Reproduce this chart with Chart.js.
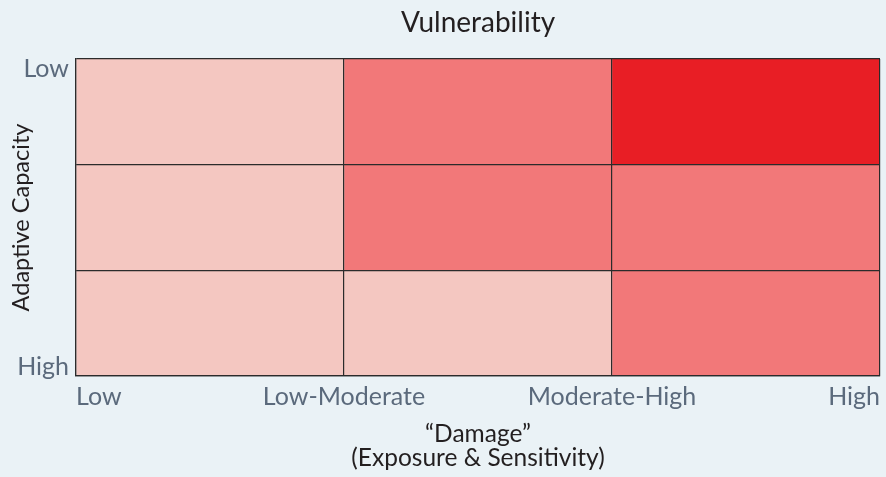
<!DOCTYPE html>
<html>
<head>
<meta charset="utf-8">
<script src="https://cdn.jsdelivr.net/npm/chart.js@4/dist/chart.umd.min.js"></script>
<style>
  body { margin: 0; background: #eaf2f6; }
  #wrap { width: 886px; height: 477px; }
</style>
</head>
<body>
<div id="wrap"><canvas id="myChart"></canvas></div>
<script>
// Damage categories along the x axis (tick labels at the cell edges)
var damageLabels = ['Low', 'Low-Moderate', 'Moderate-High', 'High'];
// Adaptive capacity rows, top to bottom
var capacityRows = ['Low', 'Moderate', 'High'];
var capacityTop = 'Low';
var capacityBottom = 'High';
// Vulnerability level of each cell, one array per damage column, rows top to bottom
var colLow = [1, 1, 1];
var colModerate = [2, 2, 1];
var colHigh = [3, 2, 2];
var levelColors = { 1: '#f4c7c1', 2: '#f27879', 3: '#e81e25' };

var fontFamily = 'Lato, "Open Sans", sans-serif';
var tickColor = '#5b6a7c';
var titleColor = '#231f20';
var lineColor = '#2b2b2b';

function makeDataset(values, col) {
    return {
        data: values.map(v => [col, col + 1]),
        backgroundColor: values.map(v => levelColors[v]),
        borderWidth: 0,
        barPercentage: 1,
        categoryPercentage: 1,
        grouped: false,
        yAxisID: 'rows',
        xAxisID: 'x'
    };
}

// Render the Chart
function renderChart() {
    var ctx = document.getElementById('myChart').getContext('2d');
    var myChart = new Chart(ctx, {
        type: 'bar',
        data: {
            labels: capacityRows,
            datasets: [
                makeDataset(colLow, 0),
                makeDataset(colModerate, 1),
                makeDataset(colHigh, 2)
            ]
        },
        options: {
            indexAxis: 'y',
            responsive: true,
            maintainAspectRatio: false,
            animation: false,
            layout: { padding: { left: 0, top: 0, right: -3, bottom: 0 } },
            plugins: {
                legend: { display: false },
                tooltip: { enabled: false }
            },
            scales: {
                rows: {
                    type: 'category',
                    axis: 'y',
                    display: false
                },
                x: {
                    type: 'linear',
                    position: 'bottom',
                    min: 0,
                    max: 3,
                    afterFit: s => { s.height = 101; },
                    grid: { color: lineColor, lineWidth: 1.2, drawTicks: false, z: 1 },
                    border: { color: lineColor, width: 1.2, z: 1 },
                    ticks: {
                        stepSize: 1,
                        align: 'inner',
                        padding: 6,
                        color: tickColor,
                        font: { family: fontFamily, size: 25 },
                        callback: v => damageLabels[v]
                    },
                    title: {
                        display: true,
                        text: ['\u201cDamage\u201d', '(Exposure & Sensitivity)'],
                        color: titleColor,
                        font: { family: fontFamily, size: 24.5, lineHeight: '24px' },
                        padding: { top: 0, bottom: 7 }
                    }
                },
                top: {
                    type: 'linear',
                    axis: 'x',
                    position: 'top',
                    min: 0,
                    max: 3,
                    afterFit: s => { s.height = 59; },
                    grid: { display: false },
                    border: { display: false },
                    ticks: { display: false },
                    title: {
                        display: true,
                        text: 'Vulnerability',
                        color: titleColor,
                        font: { family: fontFamily, size: 28, lineHeight: 1.2 },
                        padding: { top: 6, bottom: 0 }
                    }
                },
                y: {
                    type: 'linear',
                    position: 'left',
                    min: 0,
                    max: 3,
                    offset: false,
                    afterFit: s => { s.width = 76; },
                    grid: { color: lineColor, lineWidth: 1.2, drawTicks: false, offset: false, z: 1 },
                    border: { color: lineColor, width: 1.2, z: 1 },
                    ticks: {
                        stepSize: 1,
                        padding: 7,
                        color: tickColor,
                        font: { family: fontFamily, size: 25, lineHeight: '19px' },
                        // blank first/last line pulls the end labels inside the grid
                        callback: v => v === 3 ? ['', capacityTop] : (v === 0 ? [capacityBottom, ''] : '')
                    },
                    title: {
                        display: true,
                        text: 'Adaptive Capacity',
                        color: titleColor,
                        font: { family: fontFamily, size: 23.5, lineHeight: 1.2 },
                        padding: { top: 7, bottom: 0 }
                    }
                }
            }
        }
    });
}

renderChart();
</script>
</body>
</html>
